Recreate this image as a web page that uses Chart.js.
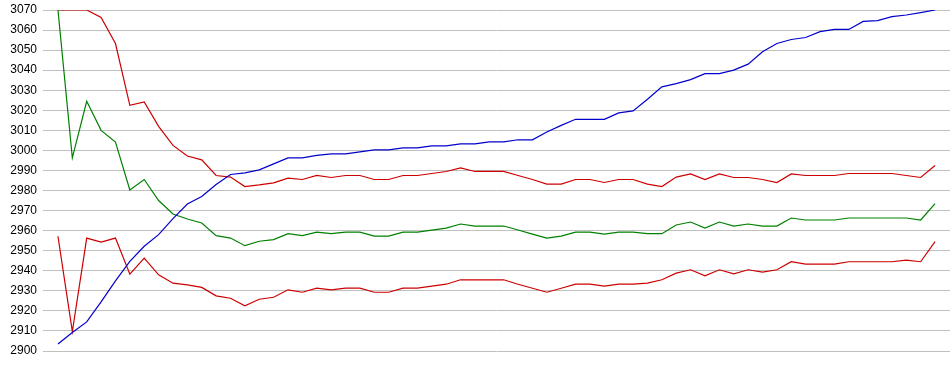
<!DOCTYPE html>
<html>
<head>
<meta charset="utf-8">
<script src="https://cdn.jsdelivr.net/npm/chart.js@4"></script>
<style>
  html, body { margin: 0; padding: 0; background: #fff; }
  #wrap { width: 950px; height: 375px; }
</style>
</head>
<body>
<div id="wrap"><canvas id="bandChart"></canvas></div>
<script>
// x positions (sample number)
const samples = [0,1,2,3,4,5,6,7,8,9,10,11,12,13,14,15,16,17,18,19,20,21,22,23,24,25,26,27,28,29,
  30,31,32,33,34,35,36,37,38,39,40,41,42,43,44,45,46,47,48,49,50,51,52,53,54,55,56,57,58,59,60,61];

const upperBand = [3070, 3070, 3070, 3066.3, 3053.3, 3022.5, 3024.2, 3012, 3002.5, 2997.2,
  2995.3, 2987.5, 2986.7, 2982, 2982.8, 2983.8, 2986.2, 2985.5, 2987.5, 2986.5,
  2987.5, 2987.5, 2985.5, 2985.5, 2987.5, 2987.5, 2988.5, 2989.5, 2991.3, 2989.5,
  2989.5, 2989.5, 2987.5, 2985.5, 2983.2, 2983.2, 2985.5, 2985.5, 2984, 2985.5,
  2985.5, 2983.2, 2982, 2986.7, 2988.3, 2985.5, 2988.3, 2986.5, 2986.5, 2985.5,
  2984, 2988.3, 2987.5, 2987.5, 2987.5, 2988.5, 2988.5, 2988.5, 2988.5, 2987.5,
  2986.5, 2992.5];

const middleLine = [3070, 2996.3, 3024.5, 3010, 3004.2, 2980.3, 2985.5, 2975, 2968.3, 2965.8,
  2963.8, 2957.5, 2956.3, 2952.5, 2954.7, 2955.5, 2958.5, 2957.5, 2959.3, 2958.5,
  2959.3, 2959.3, 2957.3, 2957.3, 2959.3, 2959.3, 2960.3, 2961.3, 2963.3, 2962.3,
  2962.3, 2962.3, 2960.3, 2958.3, 2956.3, 2957.3, 2959.3, 2959.3, 2958.3, 2959.3,
  2959.3, 2958.5, 2958.5, 2962.8, 2964.3, 2961.3, 2964.3, 2962.3, 2963.3, 2962.3,
  2962.3, 2966.3, 2965.3, 2965.3, 2965.3, 2966.3, 2966.3, 2966.3, 2966.3, 2966.3,
  2965.3, 2973.5];

const lowerBand = [2957.2, 2909.7, 2956.3, 2954.3, 2956.3, 2938.3, 2946.3, 2938, 2933.8, 2933,
  2931.7, 2927.5, 2926.3, 2922.5, 2925.8, 2926.8, 2930.5, 2929.3, 2931.3, 2930.5,
  2931.3, 2931.3, 2929.3, 2929.3, 2931.3, 2931.3, 2932.3, 2933.3, 2935.5, 2935.5,
  2935.5, 2935.5, 2933.3, 2931.3, 2929.3, 2931.3, 2933.3, 2933.3, 2932.3, 2933.3,
  2933.3, 2933.8, 2935.5, 2938.8, 2940.5, 2937.5, 2940.5, 2938.5, 2940.5, 2939.3,
  2940.5, 2944.5, 2943.3, 2943.3, 2943.3, 2944.5, 2944.5, 2944.5, 2944.5, 2945.3,
  2944.5, 2954.5];

const trendLine = [2903.5, 2909.2, 2914.5, 2924.5, 2935, 2944.7, 2952.2, 2958, 2966, 2973.3,
  2977, 2983, 2988, 2988.8, 2990.3, 2993.3, 2996.3, 2996.3, 2997.5, 2998.3,
  2998.3, 2999.3, 3000.3, 3000.3, 3001.3, 3001.3, 3002.3, 3002.3, 3003.3, 3003.3,
  3004.3, 3004.3, 3005.3, 3005.3, 3009.2, 3012.5, 3015.5, 3015.5, 3015.5, 3018.7,
  3019.7, 3025.5, 3031.7, 3033.3, 3035.3, 3038.3, 3038.3, 3040, 3043, 3049.2,
  3053.3, 3055.3, 3056.3, 3059.2, 3060.3, 3060.3, 3064.3, 3064.7, 3066.7, 3067.5,
  3068.7, 3070];

const yMin = 2900;
const yMax = 3070;

function lineSet(values, color) {
    return {
        data: values,
        borderColor: color,
        borderWidth: 1.2,
        pointRadius: 0,
        tension: 0,
        fill: false
    };
}

const ctx = document.getElementById('bandChart').getContext('2d');
const bandChart = new Chart(ctx, {
    type: 'line',
    data: {
        labels: samples,
        datasets: [
            lineSet(trendLine, '#0000cc'),
            lineSet(lowerBand, '#cc0000'),
            lineSet(middleLine, '#008000'),
            lineSet(upperBand, '#cc0000')
        ]
    },
    options: {
        responsive: true,
        maintainAspectRatio: false,
        animation: false,
        layout: {
            padding: { top: 10, right: 0, bottom: 24, left: 0 }
        },
        plugins: {
            legend: { display: false },
            tooltip: { enabled: false }
        },
        scales: {
            x: {
                type: 'linear',
                display: false,
                min: -1.04,
                max: 62.04
            },
            y: {
                min: yMin,
                max: yMax,
                afterFit: function(scale) {
                    // fixed axis width, no extra label padding top/bottom
                    scale.width = 43;
                    scale.paddingTop = 0;
                    scale.paddingBottom = 0;
                },
                ticks: {
                    stepSize: 10,
                    padding: 6,
                    color: '#000',
                    font: {
                        size: 12,
                        family: 'Liberation Sans'
                    },
                    callback: function(value) {
                        return String(value);
                    }
                },
                grid: {
                    color: '#c0c0c0',
                    drawTicks: false
                },
                border: { display: false }
            }
        }
    }
});
</script>
</body>
</html>
